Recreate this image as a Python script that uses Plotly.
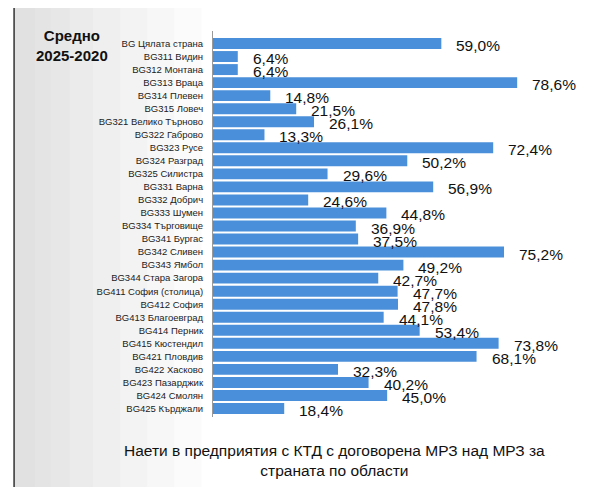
import plotly.graph_objects as go

regions = [
    "BG Цялата страна", "BG311 Видин", "BG312 Монтана", "BG313 Враца", "BG314 Плевен",
    "BG315 Ловеч", "BG321 Велико Търново", "BG322 Габрово", "BG323 Русе", "BG324 Разград",
    "BG325 Силистра", "BG331 Варна", "BG332 Добрич", "BG333 Шумен", "BG334 Търговище",
    "BG341 Бургас", "BG342 Сливен", "BG343 Ямбол", "BG344 Стара Загора",
    "BG411 София (столица)", "BG412 София", "BG413 Благоевград", "BG414 Перник",
    "BG415 Кюстендил", "BG421 Пловдив", "BG422 Хасково", "BG423 Пазарджик",
    "BG424 Смолян", "BG425 Кърджали",
]
shares = [
    59.0, 6.4, 6.4, 78.6, 14.8, 21.5, 26.1, 13.3, 72.4, 50.2,
    29.6, 56.9, 24.6, 44.8, 36.9, 37.5, 75.2, 49.2, 42.7,
    47.7, 47.8, 44.1, 53.4, 73.8, 68.1, 32.3, 40.2, 45.0, 18.4,
]
labels = [f"{v:.1f}".replace(".", ",") + "%" for v in shares]

sans = "Liberation Sans, Arial, sans-serif"
bar_color = "#4a8fd9"

fig = go.Figure()
fig.add_trace(go.Bar(
    x=shares, y=regions, orientation="h",
    marker=dict(color=bar_color, line=dict(width=0)),
    hoverinfo="x+y",
))

# value labels sit a little to the right of each bar end
for v, r, t in zip(shares, regions, labels):
    fig.add_annotation(
        x=v, y=r, text=t, showarrow=False,
        xanchor="left", xshift=13, yshift=-2,
        font=dict(family=sans, size=15.5, color="#111111"),
    )

# soft grey wash on the left side of the frame (faked gradient)
for x1 in [-0.03, -0.10, -0.17, -0.24, -0.31, -0.37, -0.42, -0.46]:
    fig.add_shape(type="rect", xref="paper", yref="paper",
                  x0=-0.514, x1=x1, y0=-0.19, y1=1.064,
                  fillcolor="#9ea6ac", opacity=0.045, line=dict(width=0), layer="below")

# outer frame
fig.add_shape(type="rect", xref="paper", yref="paper",
              x0=-0.514, x1=1.031, y0=-0.2, y1=1.066,
              line=dict(color="#333333", width=1.5), fillcolor="rgba(0,0,0,0)")

fig.add_annotation(
    xref="paper", yref="paper", x=-0.365, y=1.015, xanchor="center", yanchor="top",
    showarrow=False, text="<b>Средно<br>2025-2020</b>", align="center",
    font=dict(family=sans, size=15, color="#111111"),
)
fig.add_annotation(
    xref="paper", yref="paper", x=0.315, y=-0.06, xanchor="center", yanchor="top",
    showarrow=False,
    text="Наети в предприятия с КТД с договорена МРЗ над МРЗ за<br>страната по области",
    align="center",
    font=dict(family=sans, size=15.5, color="#111111"),
)

# page body adds 8px margin, so the figure is 8px smaller and shifted
fig.update_layout(
    width=606, height=479,
    margin=dict(l=205, r=14, t=23, b=70),
    paper_bgcolor="white", plot_bgcolor="rgba(0,0,0,0)",
    bargap=0.16, showlegend=False,
    xaxis=dict(range=[0, 100], visible=False, fixedrange=True),
    yaxis=dict(
        autorange="reversed", showline=True, linecolor="#9a9a9a", linewidth=1,
        ticks="", showgrid=False, ticklabelstandoff=7, automargin=False,
        tickmode="array", tickvals=regions, ticktext=regions,
        tickfont=dict(family=sans, size=9.5, color="#222222"),
        fixedrange=True,
    ),
)

fig.write_html("out.html")
